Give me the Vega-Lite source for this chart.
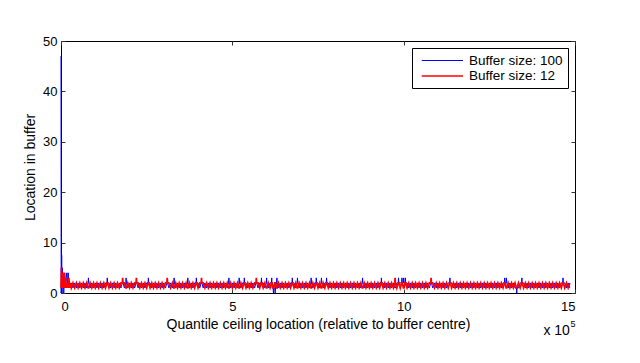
{
"$schema": "https://vega.github.io/schema/vega-lite/v6.json",
"width": 514, "height": 252,
"autosize": {"type": "none"},
"padding": {"left": 61, "top": 41, "right": 65, "bottom": 70},
"background": "white",
"config": {
 "font": "Liberation Sans",
 "view": {"stroke": "black", "strokeWidth": 1},
 "axis": {"labelFont": "Liberation Sans", "labelFontSize": 13, "labelColor": "black", "titleFont": "Liberation Sans", "titleFontSize": 14, "titleFontWeight": "normal", "titleColor": "black", "domainColor": "black", "tickColor": "#333333", "grid": false},
 "legend": {"orient": "top-right", "offset": 7, "strokeColor": "black", "fillColor": "white", "padding": 5, "labelFont": "Liberation Sans", "labelFontSize": 13.5, "labelColor": "black", "symbolType": "M-0.47,0H5.43", "symbolSize": 196, "rowPadding": 1, "labelOffset": 36, "cornerRadius": 0}
},
"resolve": {"axis": {"x": "independent", "y": "independent"}},
"layer": [
 {
 "data": {"values": [
{"x":0,"b":47,"r":2},{"x":0.005,"b":0,"r":1},{"x":0.01,"b":1,"r":5},{"x":0.02,"b":7.5,"r":1},{"x":0.03,"b":0,"r":2},{"x":0.04,"b":5,"r":1},{"x":0.05,"b":1,"r":4},{"x":0.06,"b":2,"r":1},{"x":0.07,"b":4,"r":2},{"x":0.08,"b":0,"r":1},{"x":0.09,"b":2,"r":4},{"x":0.1,"b":1,"r":1},{"x":0.11,"b":4,"r":2},{"x":0.12,"b":1,"r":1},{"x":0.13,"b":2,"r":3},{"x":0.14,"b":1,"r":1},{"x":0.15,"b":3,"r":2},{"x":0.17,"b":4,"r":1},{"x":0.19,"b":1,"r":2},{"x":0.21,"b":4,"r":1},{"x":0.23,"b":1,"r":3},{"x":0.25,"b":2,"r":1},{"x":0.27,"b":1,"r":2},{"x":0.3,"b":2,"r":1},
{"x":0.35,"b":1,"r":2},{"x":0.4,"b":2,"r":1},{"x":0.45,"b":1,"r":2},{"x":0.5,"b":2,"r":1},{"x":0.55,"b":1,"r":2},{"x":0.6,"b":2,"r":1},{"x":0.65,"b":1,"r":2},{"x":0.7,"b":2,"r":1},{"x":0.75,"b":1,"r":2},{"x":0.79,"b":2,"r":1},{"x":0.8,"b":3,"r":1},{"x":0.81,"b":2,"r":1},
{"x":0.85,"b":1,"r":2},{"x":0.9,"b":2,"r":1},{"x":0.95,"b":1,"r":2},{"x":1,"b":2,"r":1},{"x":1.05,"b":1,"r":2},{"x":1.1,"b":2,"r":1},{"x":1.15,"b":1,"r":2},{"x":1.2,"b":2,"r":1},{"x":1.25,"b":1,"r":2},{"x":1.3,"b":2,"r":1},
{"x":1.34,"b":2,"r":2},{"x":1.35,"b":3,"r":2},{"x":1.36,"b":2,"r":2},{"x":1.4,"b":2,"r":1},{"x":1.45,"b":1,"r":2},{"x":1.5,"b":2,"r":1},{"x":1.55,"b":1,"r":2},{"x":1.6,"b":2,"r":1},{"x":1.65,"b":1,"r":2},{"x":1.7,"b":2,"r":1},{"x":1.75,"b":1,"r":2},{"x":1.79,"b":2,"r":2},{"x":1.8,"b":2,"r":3},{"x":1.81,"b":2,"r":2},
{"x":1.85,"b":1,"r":2},{"x":1.89,"b":2,"r":1},{"x":1.9,"b":3,"r":1},{"x":1.91,"b":2,"r":1},{"x":1.95,"b":1,"r":2},{"x":2,"b":2,"r":1},{"x":2.05,"b":1,"r":2},{"x":2.1,"b":2,"r":1},{"x":2.15,"b":1,"r":2},{"x":2.19,"b":2,"r":2},{"x":2.2,"b":2,"r":3},{"x":2.21,"b":2,"r":2},{"x":2.25,"b":1,"r":2},{"x":2.3,"b":2,"r":1},
{"x":2.35,"b":1,"r":2},{"x":2.4,"b":2,"r":1},{"x":2.45,"b":1,"r":2},{"x":2.5,"b":2,"r":1},{"x":2.54,"b":2,"r":2},{"x":2.55,"b":3,"r":2},{"x":2.56,"b":2,"r":2},{"x":2.6,"b":2,"r":1},{"x":2.65,"b":1,"r":2},{"x":2.7,"b":2,"r":1},{"x":2.75,"b":1,"r":2},{"x":2.8,"b":2,"r":1},
{"x":2.85,"b":1,"r":2},{"x":2.9,"b":2,"r":1},{"x":2.95,"b":1,"r":2},{"x":3,"b":2,"r":1},{"x":3.05,"b":1,"r":2},{"x":3.09,"b":2,"r":2},{"x":3.1,"b":2,"r":3},{"x":3.11,"b":2,"r":2},{"x":3.15,"b":1,"r":2},{"x":3.2,"b":2,"r":1},{"x":3.25,"b":1,"r":2},{"x":3.29,"b":2,"r":1},{"x":3.3,"b":3,"r":1},{"x":3.31,"b":2,"r":1},
{"x":3.35,"b":1,"r":2},{"x":3.4,"b":2,"r":1},{"x":3.45,"b":1,"r":2},{"x":3.5,"b":2,"r":1},{"x":3.55,"b":1,"r":2},{"x":3.6,"b":2,"r":1},{"x":3.65,"b":1,"r":2},{"x":3.69,"b":2,"r":1},{"x":3.7,"b":3,"r":1},{"x":3.71,"b":2,"r":1},{"x":3.75,"b":1,"r":2},{"x":3.8,"b":2,"r":1},
{"x":3.85,"b":1,"r":2},{"x":3.9,"b":2,"r":1},{"x":3.94,"b":2,"r":2},{"x":3.95,"b":3,"r":2},{"x":3.96,"b":2,"r":2},{"x":4,"b":2,"r":1},{"x":4.05,"b":1,"r":2},{"x":4.09,"b":2,"r":2},{"x":4.1,"b":2,"r":3},{"x":4.11,"b":2,"r":2},{"x":4.15,"b":1,"r":2},{"x":4.2,"b":2,"r":1},{"x":4.25,"b":1,"r":2},{"x":4.3,"b":2,"r":1},
{"x":4.35,"b":1,"r":2},{"x":4.4,"b":2,"r":1},{"x":4.45,"b":1,"r":2},{"x":4.5,"b":2,"r":1},{"x":4.55,"b":1,"r":2},{"x":4.6,"b":2,"r":1},{"x":4.65,"b":1,"r":2},{"x":4.7,"b":2,"r":1},{"x":4.75,"b":1,"r":2},{"x":4.8,"b":2,"r":1},
{"x":4.85,"b":1,"r":2},{"x":4.89,"b":2,"r":1},{"x":4.9,"b":3,"r":1},{"x":4.91,"b":2,"r":1},{"x":4.95,"b":1,"r":2},{"x":5,"b":2,"r":1},{"x":5.05,"b":1,"r":2},{"x":5.1,"b":2,"r":1},{"x":5.15,"b":1,"r":2},{"x":5.19,"b":2,"r":1},{"x":5.2,"b":3,"r":1},{"x":5.21,"b":2,"r":1},{"x":5.25,"b":1,"r":2},{"x":5.3,"b":2,"r":1},
{"x":5.34,"b":2,"r":2},{"x":5.35,"b":3,"r":2},{"x":5.36,"b":2,"r":2},{"x":5.4,"b":2,"r":1},{"x":5.45,"b":1,"r":2},{"x":5.5,"b":2,"r":1},{"x":5.55,"b":1,"r":2},{"x":5.6,"b":2,"r":1},{"x":5.65,"b":1,"r":2},{"x":5.69,"b":2,"r":2},{"x":5.7,"b":2,"r":3},{"x":5.71,"b":2,"r":2},{"x":5.75,"b":1,"r":2},{"x":5.8,"b":2,"r":1},
{"x":5.84,"b":2,"r":2},{"x":5.85,"b":3,"r":2},{"x":5.86,"b":2,"r":2},{"x":5.9,"b":2,"r":1},{"x":5.95,"b":1,"r":2},{"x":5.99,"b":2,"r":1},{"x":6,"b":3,"r":1},{"x":6.01,"b":2,"r":1},{"x":6.05,"b":1,"r":2},{"x":6.1,"b":2,"r":1},{"x":6.14,"b":2,"r":2},{"x":6.15,"b":3,"r":2},{"x":6.16,"b":1,"r":2},{"x":6.19,"b":1,"r":1},{"x":6.2,"b":0,"r":1},{"x":6.21,"b":1,"r":1},{"x":6.24,"b":1,"r":2},{"x":6.25,"b":0,"r":2},{"x":6.26,"b":1,"r":2},{"x":6.29,"b":2,"r":1},{"x":6.3,"b":3,"r":1},{"x":6.31,"b":2,"r":1},
{"x":6.35,"b":1,"r":2},{"x":6.4,"b":2,"r":1},{"x":6.45,"b":1,"r":2},{"x":6.5,"b":2,"r":1},{"x":6.55,"b":1,"r":2},{"x":6.6,"b":2,"r":1},{"x":6.65,"b":1,"r":2},{"x":6.7,"b":2,"r":1},{"x":6.74,"b":2,"r":2},{"x":6.75,"b":3,"r":2},{"x":6.76,"b":2,"r":2},{"x":6.8,"b":2,"r":1},
{"x":6.85,"b":1,"r":2},{"x":6.89,"b":2,"r":1},{"x":6.9,"b":3,"r":1},{"x":6.91,"b":2,"r":1},{"x":6.95,"b":1,"r":2},{"x":7,"b":2,"r":1},{"x":7.05,"b":1,"r":2},{"x":7.1,"b":2,"r":1},{"x":7.15,"b":1,"r":2},{"x":7.2,"b":2,"r":1},{"x":7.25,"b":1,"r":2},{"x":7.29,"b":2,"r":1},{"x":7.3,"b":3,"r":1},{"x":7.31,"b":2,"r":1},
{"x":7.35,"b":1,"r":2},{"x":7.4,"b":2,"r":1},{"x":7.44,"b":2,"r":2},{"x":7.45,"b":3,"r":2},{"x":7.46,"b":2,"r":2},{"x":7.5,"b":2,"r":1},{"x":7.55,"b":1,"r":2},{"x":7.59,"b":2,"r":1},{"x":7.6,"b":3,"r":1},{"x":7.61,"b":2,"r":1},{"x":7.65,"b":1,"r":2},{"x":7.7,"b":2,"r":1},{"x":7.74,"b":2,"r":2},{"x":7.75,"b":3,"r":2},{"x":7.76,"b":2,"r":2},{"x":7.8,"b":2,"r":1},
{"x":7.85,"b":1,"r":2},{"x":7.9,"b":2,"r":1},{"x":7.95,"b":1,"r":2},{"x":8,"b":2,"r":1},{"x":8.05,"b":1,"r":2},{"x":8.1,"b":2,"r":1},{"x":8.15,"b":1,"r":2},{"x":8.2,"b":2,"r":1},{"x":8.25,"b":1,"r":2},{"x":8.3,"b":2,"r":1},
{"x":8.35,"b":1,"r":2},{"x":8.4,"b":2,"r":1},{"x":8.45,"b":1,"r":2},{"x":8.5,"b":2,"r":1},{"x":8.55,"b":1,"r":2},{"x":8.6,"b":2,"r":1},{"x":8.65,"b":1,"r":2},{"x":8.7,"b":2,"r":1},{"x":8.75,"b":1,"r":2},{"x":8.79,"b":2,"r":1},{"x":8.8,"b":3,"r":1},{"x":8.81,"b":2,"r":1},
{"x":8.85,"b":1,"r":2},{"x":8.9,"b":2,"r":1},{"x":8.95,"b":1,"r":2},{"x":9,"b":2,"r":1},{"x":9.05,"b":1,"r":2},{"x":9.1,"b":2,"r":1},{"x":9.15,"b":1,"r":2},{"x":9.2,"b":2,"r":1},{"x":9.25,"b":1,"r":2},{"x":9.3,"b":2,"r":1},
{"x":9.34,"b":2,"r":2},{"x":9.35,"b":3,"r":2},{"x":9.36,"b":2,"r":2},{"x":9.4,"b":2,"r":1},{"x":9.45,"b":1,"r":2},{"x":9.5,"b":2,"r":1},{"x":9.55,"b":1,"r":2},{"x":9.6,"b":2,"r":1},{"x":9.65,"b":1,"r":2},{"x":9.7,"b":2,"r":1},{"x":9.74,"b":1,"r":2},{"x":9.75,"b":1,"r":3},{"x":9.76,"b":1,"r":2},{"x":9.8,"b":2,"r":1},
{"x":9.84,"b":2,"r":2},{"x":9.85,"b":3,"r":2},{"x":9.86,"b":2,"r":2},{"x":9.9,"b":2,"r":1},{"x":9.94,"b":2,"r":2},{"x":9.95,"b":3,"r":2},{"x":9.96,"b":2,"r":2},{"x":9.99,"b":2,"r":1},{"x":10,"b":3,"r":1},{"x":10.01,"b":2,"r":1},{"x":10.04,"b":2,"r":2},{"x":10.05,"b":3,"r":2},{"x":10.06,"b":2,"r":2},{"x":10.1,"b":2,"r":1},{"x":10.15,"b":1,"r":2},{"x":10.2,"b":2,"r":1},{"x":10.25,"b":1,"r":2},{"x":10.3,"b":2,"r":1},
{"x":10.35,"b":1,"r":2},{"x":10.4,"b":2,"r":1},{"x":10.45,"b":1,"r":2},{"x":10.5,"b":2,"r":1},{"x":10.55,"b":1,"r":2},{"x":10.6,"b":2,"r":1},{"x":10.65,"b":1,"r":2},{"x":10.7,"b":2,"r":1},{"x":10.75,"b":1,"r":2},{"x":10.79,"b":2,"r":2},{"x":10.8,"b":2,"r":3},{"x":10.81,"b":2,"r":2},
{"x":10.85,"b":1,"r":2},{"x":10.9,"b":2,"r":1},{"x":10.95,"b":1,"r":2},{"x":11,"b":2,"r":1},{"x":11.05,"b":1,"r":2},{"x":11.1,"b":2,"r":1},{"x":11.15,"b":1,"r":2},{"x":11.2,"b":2,"r":1},{"x":11.25,"b":1,"r":2},{"x":11.3,"b":2,"r":1},
{"x":11.34,"b":2,"r":2},{"x":11.35,"b":3,"r":2},{"x":11.36,"b":2,"r":2},{"x":11.4,"b":2,"r":1},{"x":11.45,"b":1,"r":2},{"x":11.5,"b":2,"r":1},{"x":11.55,"b":1,"r":2},{"x":11.6,"b":2,"r":1},{"x":11.65,"b":1,"r":2},{"x":11.7,"b":2,"r":1},{"x":11.75,"b":1,"r":2},{"x":11.8,"b":2,"r":1},
{"x":11.85,"b":1,"r":2},{"x":11.9,"b":2,"r":1},{"x":11.95,"b":1,"r":2},{"x":12,"b":2,"r":1},{"x":12.05,"b":1,"r":2},{"x":12.1,"b":2,"r":1},{"x":12.15,"b":1,"r":2},{"x":12.2,"b":2,"r":1},{"x":12.25,"b":1,"r":2},{"x":12.3,"b":2,"r":1},
{"x":12.35,"b":1,"r":2},{"x":12.4,"b":2,"r":1},{"x":12.45,"b":1,"r":2},{"x":12.5,"b":2,"r":1},{"x":12.55,"b":1,"r":2},{"x":12.6,"b":2,"r":1},{"x":12.65,"b":1,"r":2},{"x":12.7,"b":2,"r":1},{"x":12.75,"b":1,"r":2},{"x":12.8,"b":2,"r":1},
{"x":12.85,"b":1,"r":2},{"x":12.9,"b":2,"r":1},{"x":12.94,"b":2,"r":2},{"x":12.95,"b":3,"r":2},{"x":12.96,"b":2,"r":2},{"x":12.99,"b":2,"r":1},{"x":13,"b":3,"r":1},{"x":13.01,"b":2,"r":1},{"x":13.05,"b":1,"r":2},{"x":13.1,"b":2,"r":1},{"x":13.15,"b":1,"r":2},{"x":13.2,"b":2,"r":1},{"x":13.25,"b":1,"r":2},{"x":13.29,"b":1,"r":1},{"x":13.3,"b":0,"r":1},{"x":13.31,"b":1,"r":1},
{"x":13.35,"b":1,"r":2},{"x":13.4,"b":2,"r":1},{"x":13.44,"b":2,"r":2},{"x":13.45,"b":3,"r":2},{"x":13.46,"b":2,"r":2},{"x":13.5,"b":2,"r":1},{"x":13.55,"b":1,"r":2},{"x":13.6,"b":2,"r":1},{"x":13.65,"b":1,"r":2},{"x":13.7,"b":2,"r":1},{"x":13.75,"b":1,"r":2},{"x":13.8,"b":2,"r":1},
{"x":13.85,"b":1,"r":2},{"x":13.9,"b":2,"r":1},{"x":13.95,"b":1,"r":2},{"x":14,"b":2,"r":1},{"x":14.05,"b":1,"r":2},{"x":14.1,"b":2,"r":1},{"x":14.15,"b":1,"r":2},{"x":14.2,"b":2,"r":1},{"x":14.25,"b":1,"r":2},{"x":14.3,"b":2,"r":1},
{"x":14.35,"b":1,"r":2},{"x":14.4,"b":2,"r":1},{"x":14.45,"b":1,"r":2},{"x":14.5,"b":2,"r":1},{"x":14.55,"b":1,"r":2},{"x":14.6,"b":2,"r":1},{"x":14.64,"b":2,"r":2},{"x":14.65,"b":3,"r":2},{"x":14.66,"b":2,"r":2},{"x":14.7,"b":2,"r":1},{"x":14.75,"b":1,"r":2},{"x":14.8,"b":2,"r":1},
{"x":14.85,"b":1,"r":2}
 ]},
 "transform": [{"fold": ["b", "r"], "as": ["s", "y"]}],
 "mark": {"type": "line"},
 "encoding": {
  "x": {"field": "x", "type": "quantitative", "scale": {"domain": [0, 15], "nice": false, "zero": false},
        "axis": {"orient": "bottom", "values": [0, 5, 10, 15], "ticks": false, "domain": false, "title": "Quantile ceiling location (relative to buffer centre)", "labelPadding": 7, "titlePadding": 4}},
  "y": {"field": "y", "type": "quantitative", "scale": {"domain": [0, 50], "nice": false},
        "axis": {"orient": "left", "values": [0, 10, 20, 30, 40, 50], "ticks": false, "domain": false, "title": "Location in buffer", "labelPadding": 4, "titlePadding": 5}},
  "color": {"field": "s", "type": "nominal", "scale": {"domain": ["b", "r"], "range": ["#0000ff", "#ff0000"]},
            "legend": {"title": null, "labelExpr": "datum.label == 'b' ? 'Buffer size: 100' : 'Buffer size: 12'"}},
  "strokeWidth": {"field": "s", "type": "nominal", "scale": {"domain": ["b", "r"], "range": [1, 1.7]},
            "legend": {"title": null, "labelExpr": "datum.label == 'b' ? 'Buffer size: 100' : 'Buffer size: 12'"}}
 }
 },
 {
 "data": {"values": [{"x": 14.85, "y": -8.3, "t": "x 10"}]},
 "mark": {"type": "text", "align": "right", "baseline": "alphabetic", "fontSize": 14, "font": "Liberation Sans", "color": "black"},
 "encoding": {
  "x": {"field": "x", "type": "quantitative", "axis": {"orient": "top", "values": [0, 5, 10, 15], "labels": false, "domain": false, "title": null, "tickSize": -4}},
  "y": {"field": "y", "type": "quantitative", "axis": {"orient": "right", "values": [0, 10, 20, 30, 40, 50], "labels": false, "domain": false, "title": null, "tickSize": -4}},
  "text": {"field": "t"}
 }
 },
 {
 "data": {"values": [{"x": 14.87, "y": -6.75, "t": "5"}]},
 "mark": {"type": "text", "align": "left", "baseline": "alphabetic", "fontSize": 9, "font": "Liberation Sans", "color": "black"},
 "encoding": {
  "x": {"field": "x", "type": "quantitative", "axis": {"orient": "bottom", "values": [0, 5, 10, 15], "labels": false, "domain": false, "title": null, "tickSize": -4}},
  "y": {"field": "y", "type": "quantitative", "axis": {"orient": "left", "values": [0, 10, 20, 30, 40, 50], "labels": false, "domain": false, "title": null, "tickSize": -4}},
  "text": {"field": "t"}
 }
 }
]
}
